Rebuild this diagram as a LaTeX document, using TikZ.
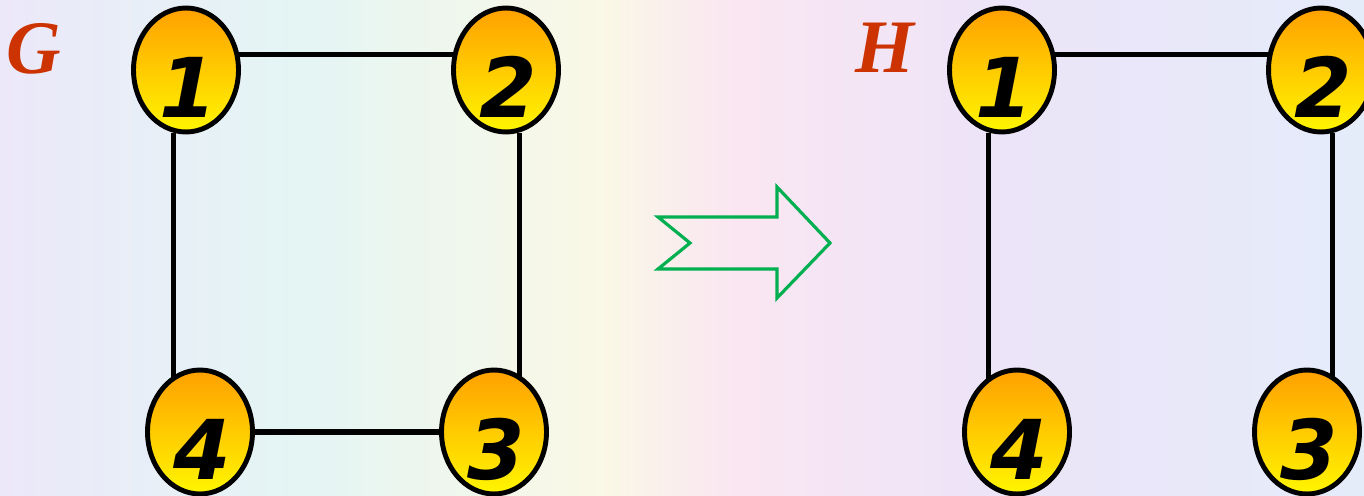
\documentclass[tikz,border=0pt]{standalone}
\usepackage{fontspec}
\usepackage{tikz}
\usetikzlibrary{shapes, positioning}
\newfontfamily\digitfont{DejaVu Sans}
\newfontfamily\namefont{Liberation Serif}
\definecolor{namered}{RGB}{204,51,0}
\definecolor{arrowgreen}{RGB}{0,176,80}
\definecolor{nodetop}{RGB}{255,160,0}
\definecolor{nodebottom}{RGB}{255,246,0}
\definecolor{bgA}{RGB}{236,232,250}
\definecolor{bgB}{RGB}{228,245,244}
\definecolor{bgC}{RGB}{250,248,230}
\definecolor{bgD}{RGB}{250,230,242}
\definecolor{bgE}{RGB}{236,228,248}
\definecolor{bgF}{RGB}{228,236,250}
\pgfdeclarehorizontalshading{pastel}{100bp}{color(0bp)=(bgA); color(25bp)=(bgA); color(36bp)=(bgB); color(47bp)=(bgC); color(52bp)=(bgD); color(62bp)=(bgE); color(75bp)=(bgF); color(100bp)=(bgF)}
\pgfdeclarelayer{bg}
\pgfsetlayers{bg,main}
\newcommand{\vnum}[1]{\raisebox{-27pt}[0pt][0pt]{\hspace{3pt}#1}}

\begin{document}
\begin{tikzpicture}[
    x=0.02cm, y=-0.02cm,
    vertex/.style={ellipse, draw, line width=2.8pt, minimum width=2.1cm, minimum height=2.48cm,
        inner sep=0pt, top color=nodetop, bottom color=nodebottom,
        font=\digitfont\bfseries\itshape\fontsize{47}{47}\selectfont},
    edge/.style={line width=3pt},
    gname/.style={text=namered, font=\namefont\bfseries\itshape\fontsize{43}{43}\selectfont}
]
\useasboundingbox (0,0) rectangle (1364,496);

% Graph G
\node[gname] (gG) at (34,49) {G};
\node[vertex] (g1) at (186,70) {\vnum{1}};
\node[vertex] (g2) at (506,70) {\vnum{2}};
\node[vertex] (g3) at (494,432) {\vnum{3}};
\node[vertex] (g4) at (200,432) {\vnum{4}};

% Graph H
\node[gname] (hH) at (885,48) {H};
\node[vertex] (h1) at (1002,70) {\vnum{1}};
\node[vertex] (h2) at (1321,70) {\vnum{2}};
\node[vertex] (h3) at (1307,432) {\vnum{3}};
\node[vertex] (h4) at (1017,432) {\vnum{4}};

% Arrow
\coordinate (tailtop) at (658,217);
\draw[arrowgreen, line width=1.8pt, line join=miter]
    (tailtop) -- (690,243) -- (658,269) -- (777,269) -- (777,298)
    -- (830,243) -- (777,187) -- (777,217) -- cycle;

\begin{pgfonlayer}{bg}
% Background
\shade[shading=pastel] (0,0) rectangle (1364,496);
% Edges
\draw[edge] (g1.16) -- (g2.164);
\draw[edge] (g1.259) -- (g1.259 |- g4.center);
\draw[edge] (g2.282) -- (g2.282 |- g3.center);
\draw[edge] (g4) -- (g3);
\draw[edge] (h1.16) -- (h2.164);
\draw[edge] (h1.258) -- (h1.258 |- h4.center);
\draw[edge] (h2.280) -- (h2.280 |- h3.center);
\end{pgfonlayer}

\end{tikzpicture}
\end{document}
